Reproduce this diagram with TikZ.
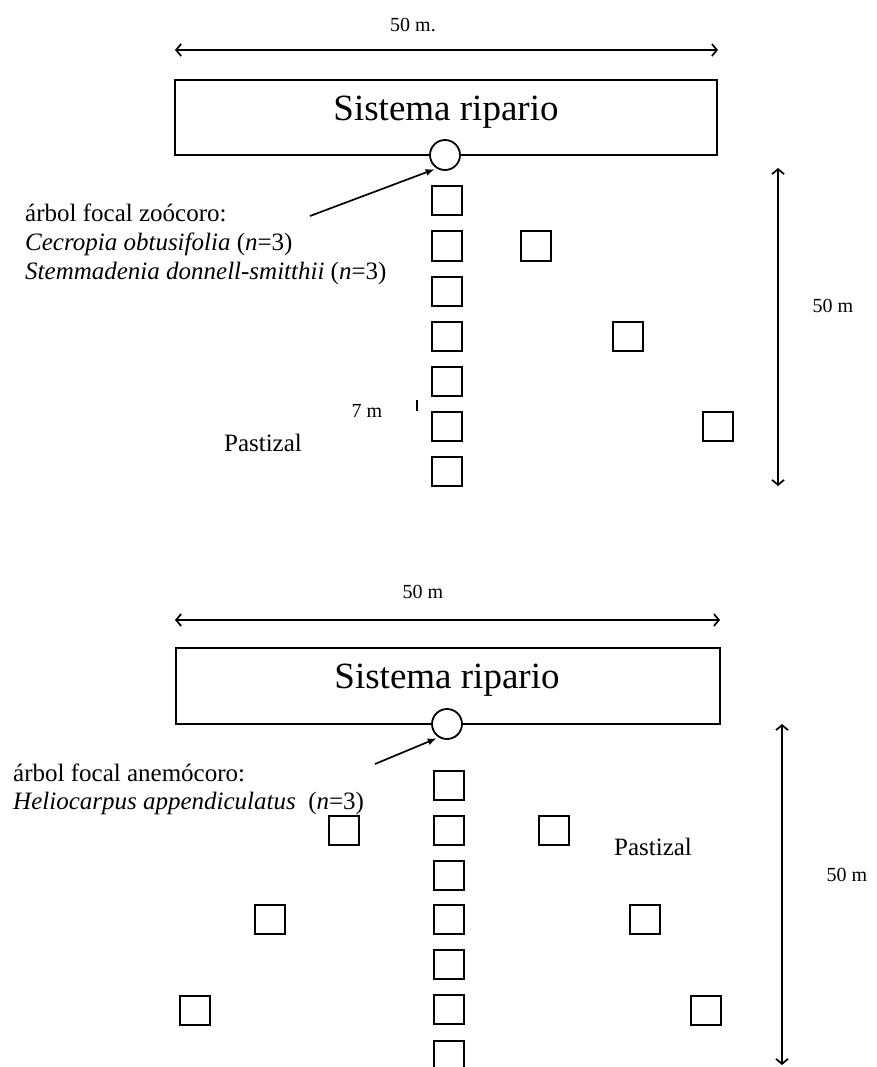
\documentclass[tikz,border=0pt]{standalone}
\usepackage{fontspec}
\setmainfont{Liberation Serif}
\usetikzlibrary{arrows.meta}
\begin{document}
\begin{tikzpicture}[x=1pt,y=-1pt,
  plot/.style={draw, line width=2pt, minimum width=30pt, minimum height=29pt, inner sep=0pt},
  river/.style={draw, line width=2pt, inner sep=0pt},
  tree/.style={draw, circle, fill=white, line width=1.8pt, minimum size=30pt, inner sep=0pt},
  dim/.style={line width=1.7pt, {Straight Barb[length=5pt,width=12pt]}-{Straight Barb[length=5pt,width=12pt]}},
  point/.style={line width=1.7pt, -{Latex[length=9pt,width=7pt]}, shorten >=2pt},
  lbl/.style={font=\fontsize{25}{29}\selectfont, inner sep=0pt, anchor=base west},
  big/.style={font=\fontsize{37}{40}\selectfont, inner sep=0pt, anchor=base},
  small/.style={font=\fontsize{20}{22}\selectfont, inner sep=0pt},
]
\useasboundingbox (0,0) rectangle (877,1067);
\fill[white] (0,0) rectangle (877,1067);

% ---------- top diagram ----------
\node[small] (d1) at (413,25) {50 m.};
\coordinate (h1a) at (175,50);
\coordinate (h1b) at (718,50);
\draw[dim] (h1a) -- (h1b);
\node[river, minimum width=542pt, minimum height=75pt] (r1) at (446,117.5) {};
\node[big] (s1) at (446,121) {Sistema ripario};
\node[tree] (c1) at (445,155) {};
\foreach \i/\y in {1/201,2/246,3/291,4/336,5/381,6/426,7/471}
  \node[plot] (qa\i) at (447,\y) {};
\node[plot] (qa8) at (536,246) {};
\node[plot] (qa9) at (628,336) {};
\node[plot] (qa10) at (718,426) {};
\coordinate (v1a) at (778,168);
\coordinate (v1b) at (778,486);
\draw[dim] (v1a) -- (v1b);
\node[small] (m1) at (833,306) {50 m};
\node[lbl] (l1a) at (25,222) {árbol focal zoócoro:};
\node[lbl] (l1b) at (25,251) {\textit{Cecropia obtusifolia} (\textit{n}=3)};
\node[lbl] (l1c) at (25,279) {\textit{Stemmadenia donnell-smitthii} (\textit{n}=3)};
\coordinate (p1) at (310,216);
\draw[point] (p1) -- (c1.238);
\node[small] (sev) at (367,411) {7 m};
\coordinate (t1a) at (417,400);
\coordinate (t1b) at (417,411);
\draw[line width=1.3pt] (t1a) -- (t1b);
\node[lbl, anchor=center] (past1) at (263,443) {Pastizal};

% ---------- bottom diagram ----------
\node[small] (d2) at (423,592) {50 m};
\coordinate (h2a) at (175,620);
\coordinate (h2b) at (720,620);
\draw[dim] (h2a) -- (h2b);
\node[river, minimum width=544pt, minimum height=76pt] (r2) at (448,686) {};
\node[big] (s2) at (447,688) {Sistema ripario};
\node[tree] (c2) at (447,724) {};
\foreach \i/\y in {1/785,2/830,3/875,4/919,5/964,6/1009,7/1055}
  \node[plot] (qb\i) at (449,\y) {};
\node[plot] (qb8) at (344,830) {};
\node[plot] (qb9) at (554,830) {};
\node[plot] (qb10) at (270,919) {};
\node[plot] (qb11) at (645,919) {};
\node[plot] (qb12) at (195,1010) {};
\node[plot] (qb13) at (706,1010) {};
\coordinate (v2a) at (782,724);
\coordinate (v2b) at (782,1065);
\draw[dim] (v2a) -- (v2b);
\node[small] (m2) at (847,875) {50 m};
\node[lbl] (l2a) at (13,781) {árbol focal anemócoro:};
\node[lbl] (l2b) at (13,809) {\textit{Heliocarpus appendiculatus}\ \ (\textit{n}=3)};
\coordinate (p2) at (375,764);
\draw[point] (p2) -- (c2.238);
\node[lbl, anchor=center] (past2) at (653,847) {Pastizal};
\end{tikzpicture}
\end{document}
